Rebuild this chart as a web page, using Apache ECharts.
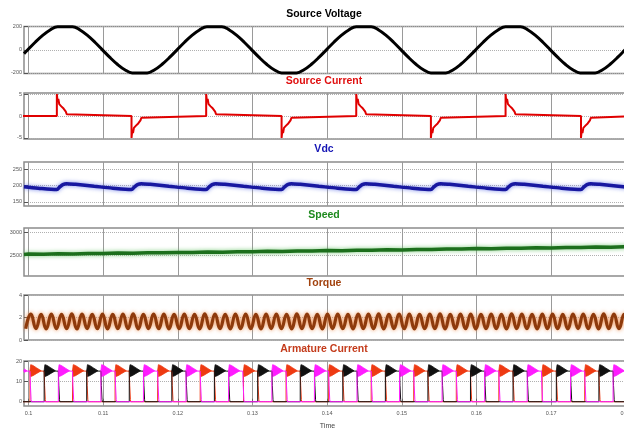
<!DOCTYPE html>
<html><head><meta charset="utf-8">
<script src="https://cdn.jsdelivr.net/npm/echarts@6/dist/echarts.min.js"></script>
<style>html,body{margin:0;padding:0;background:#fff}#c{width:624px;height:430px}</style>
</head><body><div id="c"></div>
<script>
// ---------- axis / tick data ----------
const xMin = 0.0994, xMax = 0.1807;
const timeTicks = [0.1, 0.11, 0.12, 0.13, 0.14, 0.15, 0.16, 0.17, 0.18];
const timeTickLabels = ['0.1', '0.11', '0.12', '0.13', '0.14', '0.15', '0.16', '0.17', '0.18'];
const panelTitles = ['Source Voltage', 'Source Current', 'Vdc', 'Speed', 'Torque', 'Armature Current'];
const yTicks = [[-200, 0, 200], [-5, 0, 5], [150, 200, 250], [2500, 3000], [0, 2, 4], [0, 10, 20]];
const yRanges = [[-205, 202], [-5.25, 5.25], [137.4, 272.4], [2043, 3087], [0, 4], [-2.1, 20]];

// ---------- Source voltage ----------
const voltT = [0.0994,
 0.0999,0.1009,0.1019,0.1029,0.1039,0.1049,0.1059,0.1069,0.1079,0.1089,
 0.1099,0.1109,0.1119,0.1129,0.1139,0.1149,0.1159,0.1169,0.1179,0.1189,
 0.1199,0.1209,0.1219,0.1229,0.1239,0.1249,0.1259,0.1269,0.1279,0.1289,
 0.1299,0.1309,0.1319,0.1329,0.1339,0.1349,0.1359,0.1369,0.1379,0.1389,
 0.1399,0.1409,0.1419,0.1429,0.1439,0.1449,0.1459,0.1469,0.1479,0.1489,
 0.1499,0.1509,0.1519,0.1529,0.1539,0.1549,0.1559,0.1569,0.1579,0.1589,
 0.1599,0.1609,0.1619,0.1629,0.1639,0.1649,0.1659,0.1669,0.1679,0.1689,
 0.1699,0.1709,0.1719,0.1729,0.1739,0.1749,0.1759,0.1769,0.1779,0.1789,
 0.1799,0.1806];
const voltV = [-33,
 0,66,125,172,200,200,200,172,125,66,
 0,-66,-125,-172,-200,-200,-200,-172,-125,-66,
 0,66,125,172,200,200,200,172,125,66,
 0,-66,-125,-172,-200,-200,-200,-172,-125,-66,
 0,66,125,172,200,200,200,172,125,66,
 0,-66,-125,-172,-200,-200,-200,-172,-125,-66,
 0,66,125,172,200,200,200,172,125,66,
 0,-66,-125,-172,-200,-200,-200,-172,-125,-66,
 0,46];

// ---------- Source current ----------
const currentPulseT = [0.1038, 0.1138, 0.1238, 0.1339, 0.1439, 0.1539, 0.1639, 0.1740];
const currentPulseSign = [1, -1, 1, -1, 1, -1, 1, -1];
const currentShapeDt = [0, 0, 0.0001, 0.0002, 0.00032, 0.00045, 0.0006, 0.00075, 0.0009, 0.00105, 0.0012, 0.00132, 0.0014];
const currentShapeV  = [0, 5.0, 3.3, 3.9, 2.7, 3.1, 2.2, 2.5, 1.7, 1.6, 1.0, 0.4, 0];

// ---------- Vdc ----------
const vdcT = [0.0994,0.1013,
 0.1038,0.1042,0.1046,0.1051,0.1063,0.1088,0.1113,
 0.1138,0.1142,0.1146,0.1151,0.1163,0.1188,0.1213,
 0.1238,0.1242,0.1246,0.1251,0.1263,0.1288,0.1313,
 0.1339,0.1343,0.1347,0.1352,0.1364,0.1389,0.1414,
 0.1439,0.1443,0.1447,0.1452,0.1464,0.1489,0.1514,
 0.1539,0.1543,0.1547,0.1552,0.1564,0.1589,0.1614,
 0.1639,0.1643,0.1647,0.1652,0.1664,0.1689,0.1714,
 0.1740,0.1744,0.1748,0.1753,0.1765,0.1790,0.1806];
const vdcV = [196.5,192,
 188,196,203,206,204,198,192,
 188,196,203,206,204,198,192,
 188,196,203,206,204,198,192,
 188,196,203,206,204,198,192,
 188,196,203,206,204,198,192,
 188,196,203,206,204,198,192,
 188,196,203,206,204,198,192,
 188,196,203,206,204,198,194];

// ---------- Speed ----------
const speedT = [0.0994,0.100,0.102,0.104,0.106,0.108,0.110,0.112,0.114,0.116,0.118,
 0.120,0.122,0.124,0.126,0.128,0.130,0.132,0.134,0.136,0.138,
 0.140,0.142,0.144,0.146,0.148,0.150,0.152,0.154,0.156,0.158,
 0.160,0.162,0.164,0.166,0.168,0.170,0.172,0.174,0.176,0.178,0.180,0.1806];
const speedV = [2512,2520,2516,2528,2522,2533,2530,2541,2537,2549,2546,
 2556,2553,2564,2561,2572,2570,2580,2577,2589,2586,
 2597,2594,2605,2603,2613,2611,2622,2619,2630,2628,
 2639,2636,2647,2645,2655,2653,2664,2661,2672,2670,2680,2678];

// ---------- Torque ----------
const torqueT = [
 0.09963,0.10032,0.10100,0.10169,0.10237,0.10306,0.10374,0.10443,0.10511,0.10580,
 0.10648,0.10717,0.10785,0.10854,0.10922,0.10991,0.11059,0.11128,0.11196,0.11265,
 0.11333,0.11402,0.11470,0.11539,0.11607,0.11676,0.11744,0.11813,0.11881,0.11950,
 0.12018,0.12087,0.12155,0.12224,0.12292,0.12361,0.12429,0.12498,0.12566,0.12635,
 0.12703,0.12772,0.12840,0.12909,0.12977,0.13046,0.13114,0.13183,0.13251,0.13320,
 0.13388,0.13457,0.13525,0.13594,0.13662,0.13731,0.13799,0.13868,0.13936,0.14005,
 0.14073,0.14142,0.14210,0.14279,0.14347,0.14416,0.14484,0.14553,0.14621,0.14690,
 0.14758,0.14827,0.14895,0.14964,0.15032,0.15101,0.15169,0.15238,0.15306,0.15375,
 0.15443,0.15512,0.15580,0.15649,0.15717,0.15786,0.15854,0.15923,0.15991,0.16060,
 0.16128,0.16197,0.16265,0.16334,0.16402,0.16471,0.16539,0.16608,0.16676,0.16745,
 0.16813,0.16882,0.16950,0.17019,0.17087,0.17156,0.17224,0.17293,0.17361,0.17430,
 0.17498,0.17567,0.17635,0.17704,0.17772,0.17841,0.17909,0.17978,0.18046];
const torqueV = [
 1.00,2.30,1.02,2.28,0.99,2.31,1.01,2.29,1.00,2.32,
 0.98,2.30,1.02,2.29,1.00,2.31,0.99,2.28,1.01,2.30,
 1.00,2.32,0.98,2.29,1.02,2.30,1.00,2.31,0.99,2.28,
 1.01,2.30,1.00,2.29,0.98,2.32,1.02,2.30,1.00,2.28,
 0.99,2.31,1.01,2.30,1.00,2.29,0.98,2.31,1.02,2.30,
 1.00,2.28,0.99,2.32,1.01,2.30,1.00,2.29,0.98,2.31,
 1.02,2.30,1.00,2.28,0.99,2.31,1.01,2.30,1.00,2.32,
 0.98,2.29,1.02,2.30,1.00,2.31,0.99,2.28,1.01,2.30,
 1.00,2.32,0.98,2.29,1.02,2.30,1.00,2.31,0.99,2.28,
 1.01,2.30,1.00,2.29,0.98,2.32,1.02,2.30,1.00,2.28,
 0.99,2.31,1.01,2.30,1.00,2.29,0.98,2.31,1.02,2.30,
 1.00,2.28,0.99,2.32,1.01,2.30,1.00,2.29,0.98];

// ---------- Armature current ----------
const armPulseT = [0.0983,
 0.1002,0.1021,0.1040,0.1059,0.1078,0.1097,0.1116,0.1135,0.1154,0.1173,
 0.1192,0.1211,0.1230,0.1249,0.1268,0.1288,0.1307,0.1326,0.1345,0.1364,
 0.1383,0.1402,0.1421,0.1440,0.1459,0.1478,0.1497,0.1516,0.1535,0.1554,
 0.1573,0.1592,0.1611,0.1630,0.1649,0.1668,0.1688,0.1707,0.1726,0.1745,
 0.1764,0.1783];
const armPulseColor = [2,
 0,1,2,0,1,2,0,1,2,0,
 1,2,0,1,2,0,1,2,0,1,
 2,0,1,2,0,1,2,0,1,2,
 0,1,2,0,1,2,0,1,2,0,
 1,2];
const armColors = ['#ee3a12', '#111111', '#ff1cff'];
const armEdgeDt = [0, 0, 0.0019, 0.00196, 0.00205, 0.0021];
const armEdgeV  = [0, 15.3, 15.0, 8, 1, 0];
const armFlagDt = [0, 0.0001, 0.0004, 0.0009, 0.0015, 0.0009, 0.0004, 0.0001];
const armFlagV  = [15.3, 18.2, 17.8, 16.6, 15.2, 13.9, 12.8, 12.4];

// ---------- build ----------
const pairs = (t, v) => t.map((x, i) => [x, v[i]]);

const currentData = [[xMin - 0.001, 0]];
currentPulseT.forEach((t0, i) => {
  currentShapeDt.forEach((d, j) => currentData.push([t0 + d, currentPulseSign[i] * currentShapeV[j]]));
});
currentData.push([xMax + 0.001, 0]);

function armLine(c) {
  const pts = [[xMin - 0.002, 0]];
  armPulseT.forEach((s, i) => {
    if (armPulseColor[i] !== c) return;
    armEdgeDt.forEach((d, j) => pts.push([s + d, armEdgeV[j]]));
  });
  pts.push([xMax + 0.002, 0]);
  return pts;
}

const grids = [
  {top: 26.5, height: 47},
  {top: 93, height: 46},
  {top: 162, height: 44},
  {top: 228, height: 48},
  {top: 295, height: 45},
  {top: 361, height: 45}
];
const titleTops = [8, 75, 143, 209, 277, 343];
const titleColors = ['#000000', '#e01010', '#1414b4', '#1e8a1e', '#a2420e', '#c43c1c'];

const fontFam = '"Liberation Sans", Arial, sans-serif';

const option = {
  animation: false,
  backgroundColor: '#ffffff',
  title: panelTitles.map((t, i) => ({
    text: t, left: 324, top: titleTops[i], textAlign: 'center', padding: 0,
    textStyle: {fontSize: 10.5, fontWeight: 'bold', color: titleColors[i], fontFamily: fontFam, lineHeight: 12}
  })),
  grid: grids.map(g => ({left: 24, right: -7, top: g.top, height: g.height, show: true,
    outerBoundsMode: 'none',
    borderColor: '#8c8c8c', borderWidth: 1.5, backgroundColor: 'transparent', containLabel: false})),
  xAxis: grids.map((g, i) => ({
    type: 'value', gridIndex: i, min: xMin, max: xMax,
    axisLine: {show: false},
    axisTick: {show: i === 5, inside: true, length: 3, customValues: timeTicks, lineStyle: {color: '#666'}},
    splitLine: {show: true, lineStyle: {color: '#9a9a9a', width: 1, type: 'solid'}},
    axisLabel: {show: i === 5, customValues: timeTicks, fontSize: 5.5, color: '#555', margin: 4, fontFamily: fontFam,
      formatter: v => { const k = timeTicks.findIndex(t => Math.abs(t - v) < 1e-9); return k >= 0 ? timeTickLabels[k] : ''; }},
    name: i === 5 ? 'Time' : '', nameLocation: 'middle', nameGap: 17,
    nameTextStyle: {fontSize: 7, color: '#444', fontFamily: fontFam}
  })),
  yAxis: grids.map((g, i) => ({
    type: 'value', gridIndex: i, min: yRanges[i][0], max: yRanges[i][1],
    axisLine: {show: false},
    axisTick: {show: true, inside: true, length: 4, customValues: yTicks[i], lineStyle: {color: '#555'}},
    splitLine: {show: true, lineStyle: {color: '#b0b0b0', width: 1, type: 'dotted'}},
    axisLabel: {customValues: yTicks[i], fontSize: 5.5, color: '#555', margin: 2, fontFamily: fontFam,
      formatter: v => String(v)}
  })),
  series: [
    {type: 'line', xAxisIndex: 0, yAxisIndex: 0, data: pairs(voltT, voltV), smooth: 0.4, showSymbol: false,
      lineStyle: {color: '#000', width: 3}},
    {type: 'line', xAxisIndex: 1, yAxisIndex: 1, data: currentData, showSymbol: false,
      lineStyle: {color: '#e00000', width: 2}},
    {type: 'line', xAxisIndex: 2, yAxisIndex: 2, data: pairs(vdcT, vdcV), smooth: 0.3, showSymbol: false,
      lineStyle: {color: '#1818a0', width: 3.5, shadowColor: 'rgba(90,110,230,0.8)', shadowBlur: 4}},
    {type: 'line', xAxisIndex: 3, yAxisIndex: 3, data: pairs(speedT, speedV), showSymbol: false,
      lineStyle: {color: '#1c6f1c', width: 3.5, shadowColor: 'rgba(90,190,90,0.8)', shadowBlur: 4}},
    {type: 'line', xAxisIndex: 4, yAxisIndex: 4, data: pairs(torqueT, torqueV), smooth: 0.5, showSymbol: false,
      lineStyle: {color: '#8e3a0c', width: 3.2, shadowColor: 'rgba(235,130,60,0.9)', shadowBlur: 4}},
    {type: 'line', xAxisIndex: 5, yAxisIndex: 5, data: armLine(0), showSymbol: false,
      lineStyle: {color: armColors[0], width: 1}},
    {type: 'line', xAxisIndex: 5, yAxisIndex: 5, data: armLine(1), showSymbol: false,
      lineStyle: {color: armColors[1], width: 1}},
    {type: 'line', xAxisIndex: 5, yAxisIndex: 5, data: armLine(2), showSymbol: false,
      lineStyle: {color: armColors[2], width: 1}},
    {type: 'custom', xAxisIndex: 5, yAxisIndex: 5, clip: true,
      data: armPulseT.map((t, i) => [t, armPulseColor[i]]),
      encode: {x: 0},
      renderItem: (params, api) => {
        const s = api.value(0), c = api.value(1);
        const points = armFlagDt.map((d, j) => api.coord([s + d, armFlagV[j]]));
        return {type: 'polygon', shape: {points}, style: {fill: armColors[c], stroke: armColors[c], lineWidth: 0.8}};
      }}
  ]
};
const chart = echarts.init(document.getElementById('c'));
chart.setOption(option);
</script></body></html>
